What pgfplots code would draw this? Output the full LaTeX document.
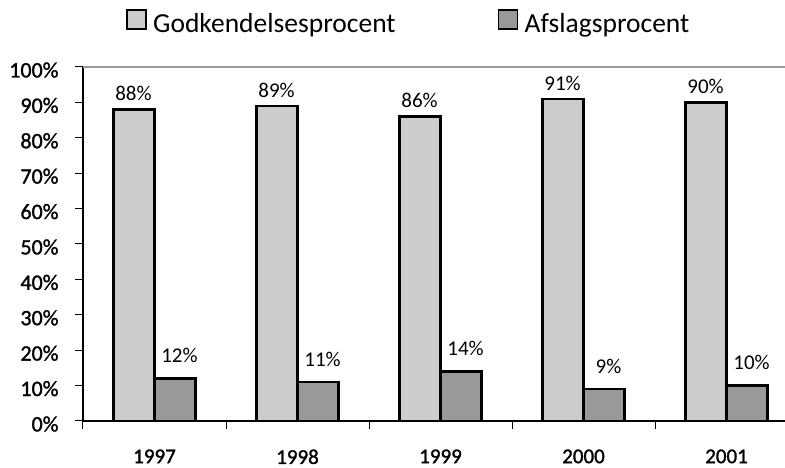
\documentclass[border=0pt]{standalone}
\usepackage{fontspec}
\setmainfont{Carlito}
\newfontfamily\boldish{Carlito}[FakeBold=1.3]
\usepackage{pgfplots}
\pgfplotsset{compat=1.18}
\definecolor{lightbar}{HTML}{CCCCCC}
\definecolor{darkbar}{HTML}{999999}
\begin{document}
\begin{tikzpicture}[x=1pt,y=1pt]
\begin{axis}[
  at={(0,0)}, anchor=south west,
  scale only axis, width=702pt, height=354pt,
  xmin=-0.5, xmax=4.409, ymin=0, ymax=100,
  axis lines*=left,
  axis line style={line width=1.5pt},
  tick align=outside, major tick length=8pt,
  tick style={line width=1pt, black},
  ytick={0,10,...,100},
  yticklabel={\pgfmathprintnumber[assume math mode=true]{\tick}\%},
  yticklabel style={font=\boldish\fontsize{22}{26}\selectfont, xshift=-13pt, yshift=-3pt},
  xtick={-0.5,0.5,1.5,2.5,3.5},
  xticklabels={},
  extra x ticks={0,1,2,3,4},
  extra x tick labels={1997,1998,1999,2000,2001},
  extra x tick style={major tick length=0pt},
  xticklabel style={font=\boldish\fontsize{21}{24}\selectfont, yshift=-25pt},
  legend columns=2,
  legend style={draw=none, at={(0.06125,1.1257)}, anchor=west, inner sep=0pt,
    font=\fontsize{27.5}{30}\selectfont,
    /tikz/every even column/.append style={column sep=100pt}},
  legend image code/.code={\draw[#1, line width=1.6pt] (0pt,-6pt) rectangle (19pt,13pt);
    \path (23pt,0pt);},
  nodes near coords={\pgfmathprintnumber[assume math mode=true]{\pgfplotspointmeta}\%},
  every node near coord/.append style={font=\fontsize{21}{24}\selectfont, black},
]
\addplot[ybar, bar width=0.287, bar shift=-0.1435, fill=lightbar, draw=black, line width=2.4pt,
  every node near coord/.append style={xshift=-21pt, yshift=4pt}]
  coordinates {(0,88) (1,89) (2,86) (3,91) (4,90)};
\addlegendentry{Godkendelsesprocent}
\addplot[ybar, bar width=0.287, bar shift=0.1435, fill=darkbar, draw=black, line width=2.4pt,
  every node near coord/.append style={xshift=25pt, yshift=11pt}]
  coordinates {(0,12) (1,11) (2,14) (3,9) (4,10)};
\addlegendentry{Afslagsprocent}
\draw[gray!80, line width=1.8pt] (rel axis cs:0,1) -- (rel axis cs:1,1);
\end{axis}
\pgfresetboundingbox
\path (-83,-47) rectangle (702,421);
\end{tikzpicture}
\end{document}
